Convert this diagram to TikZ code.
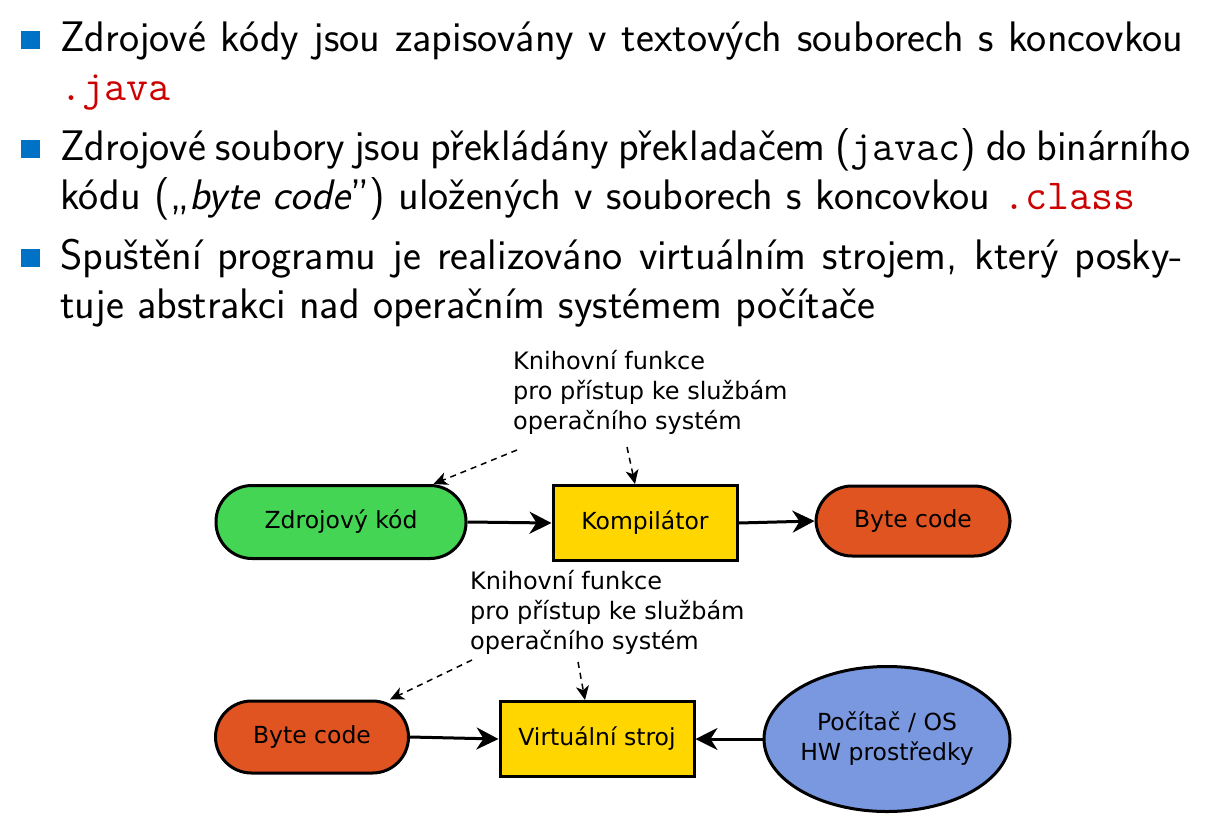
\documentclass[tikz,border=0pt]{standalone}
\usepackage{fontspec}
\newfontfamily\dejavu{DejaVu Sans}
\usetikzlibrary{shapes.geometric,arrows.meta}
\definecolor{bulletblue}{RGB}{0,114,198}
\definecolor{alertred}{RGB}{204,0,0}
\definecolor{pgreen}{RGB}{69,213,84}
\definecolor{pyellow}{RGB}{255,214,0}
\definecolor{porange}{RGB}{224,84,34}
\definecolor{pblue}{RGB}{122,152,224}
\newcommand{\alrt}[1]{\textcolor{alertred}{\texttt{#1}}}
\begin{document}
\begin{tikzpicture}[x=1pt,y=-1pt,
  txt/.style={anchor=base west, inner sep=0, font=\sffamily\fontsize{42.7}{49}\selectfont},
  bul/.style={fill=bulletblue, minimum width=19pt, minimum height=18pt, inner sep=0, anchor=south west},
  dfont/.style={font=\dejavu\fontsize{23.5}{30}\selectfont},
  pill/.style={draw, line width=3pt, rounded corners=36pt, dfont, inner sep=0},
  boxnode/.style={draw, line width=3pt, dfont, inner sep=0},
  ell/.style={ellipse, dfont, align=center, inner sep=0},
  lbl/.style={anchor=north west, inner sep=0, align=left, font=\dejavu\fontsize{24}{30}\selectfont},
  arr/.style={line width=3pt, -{Stealth[length=22pt,width=22pt,inset=7pt]}},
  darr/.style={line width=1.5pt, dash pattern=on 6pt off 5pt, -{Stealth[length=14pt,width=13pt,inset=4pt]}}
]
\useasboundingbox (0,0) rectangle (1230,822);
% bullets
\node[bul] (b1) at (21,49) {};
\node[bul] (b2) at (21,158) {};
\node[bul] (b3) at (21,267) {};
\node[txt] (t1a) at (60,51) {\hbox to 1123pt{Zdrojové kódy jsou zapisovány v textových souborech s koncovkou}};
\node[txt] (t1b) at (60,100) {\alrt{.java}};
\node[txt] (t2a) at (60,160) {\hbox to 1130pt{Zdrojové soubory jsou překládány překladačem (\texttt{javac}) do binárního}};
\node[txt] (t2b) at (60,209) {kódu („{\itshape byte code}”) uložených v souborech s koncovkou \alrt{.class}};
\node[txt] (t3a) at (60,269) {\hbox to 1123pt{Spuštění programu je realizováno virtuálním strojem, který posky-}};
\node[txt] (t3b) at (60,318) {tuje abstrakci nad operačním systémem počítače};
% top row
\node[pill, fill=pgreen, minimum width=250pt, minimum height=73pt] (zk) at (341,522) {Zdrojový kód};
\node[boxnode, fill=pyellow, minimum width=184pt, minimum height=75pt] (kp) at (645,523) {Kompilátor};
\node[pill, fill=porange, minimum width=194pt, minimum height=70pt] (bc1) at (913,521) {Byte code};
\node[lbl] (k1) at (513,350) {Knihovní funkce\\pro přístup ke službám\\operačního systém};
\coordinate (d1a) at (517,450);
\coordinate (d1b) at (627,447);
\draw[arr] (zk.east) -- (kp.west);
\draw[arr] (kp.east) -- (bc1.west);
\draw[darr] (d1a) -- ([xshift=-34pt]zk.north east);
\draw[darr] (d1b) -- ([xshift=-10pt]kp.north);
% bottom row
\node[pill, fill=porange, minimum width=193pt, minimum height=72pt] (bc2) at (312,737) {Byte code};
\node[boxnode, fill=pyellow, minimum width=194pt, minimum height=75pt] (vm) at (597,739) {Virtuální stroj};
\draw[line width=3pt, fill=pblue] (887,739) ellipse [x radius=123pt, y radius=72.5pt];
\node[ell, minimum width=246pt, minimum height=145pt] (pc) at (887,739) {Počítač / OS\\HW prostředky};
\node[lbl] (k2) at (470,570) {Knihovní funkce\\pro přístup ke službám\\operačního systém};
\coordinate (d2a) at (472,660);
\coordinate (d2b) at (578,662);
\draw[arr] (bc2.east) -- (vm.west);
\draw[arr] (pc.west) -- (vm.east);
\draw[darr] (d2a) -- ([xshift=-20pt]bc2.north east);
\draw[darr] (d2b) -- ([xshift=-12pt]vm.north);
\end{tikzpicture}
\end{document}
